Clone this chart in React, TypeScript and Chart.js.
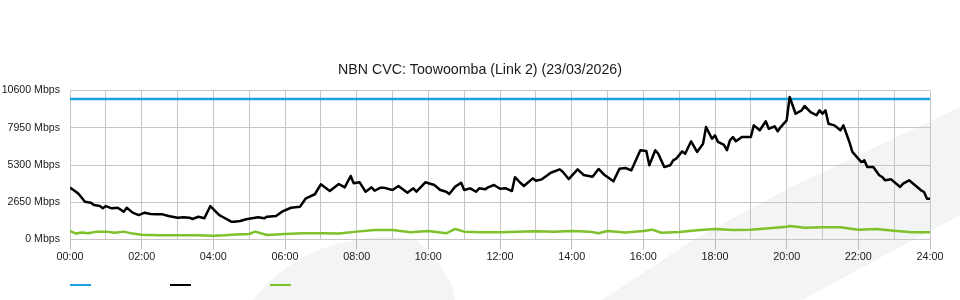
import React, { useEffect, useRef } from 'react';
import { Chart, registerables } from 'chart.js';

Chart.register(...registerables);

const chartTitle = 'NBN CVC: Toowoomba (Link 2) (23/03/2026)';
const hourLabels = ['00:00', '02:00', '04:00', '06:00', '08:00', '10:00', '12:00', '14:00', '16:00', '18:00', '20:00', '22:00', '24:00'];
const yMax = 10600;
const yStep = 2650;

// Capacity line (Mbps)
const capacityTimes = [0, 1440];
const capacityValues = [10000, 10000];

// Traffic (black), minutes since midnight
const trafficTimes = [
  0, 10, 15, 25, 35, 40, 50, 55, 60, 70,
  80, 90, 95, 105, 115, 125, 135, 145, 155, 165,
  180, 190, 200, 205, 215, 225, 235, 250, 255, 270,
  275, 285, 295, 305, 315, 325, 330, 345, 355, 370,
  385, 395, 410, 420, 435, 450, 460, 470, 475, 485,
  495, 505, 510, 520, 525, 540, 550, 565, 575, 580,
  595, 610, 620, 630, 635, 645, 655, 660, 670, 680,
  685, 695, 700, 710, 720, 730, 740, 745, 755, 760,
  775, 780, 790, 800, 805, 820, 825, 835, 850, 860,
  875, 885, 895, 910, 920, 930, 940, 955, 965, 970,
  980, 985, 995, 1005, 1010, 1015, 1025, 1030, 1040, 1050,
  1060, 1065, 1075, 1080, 1085, 1095, 1100, 1105, 1110, 1115,
  1125, 1140, 1145, 1155, 1165, 1170, 1180, 1185, 1190, 1200,
  1205, 1215, 1225, 1230, 1240, 1250, 1255, 1260, 1265, 1270,
  1280, 1290, 1295, 1305, 1310, 1325, 1330, 1335, 1345, 1355,
  1360, 1365, 1375, 1390, 1395, 1405, 1415, 1425, 1430, 1435,
  1440,
];
const trafficValues = [
  3690, 3400, 3220, 2690, 2620, 2450, 2380, 2220, 2380, 2220,
  2260, 1980, 2260, 1910, 1740, 1910, 1810, 1790, 1790, 1670,
  1550, 1580, 1550, 1460, 1620, 1510, 2380, 1740, 1620, 1270,
  1270, 1320, 1440, 1510, 1580, 1510, 1620, 1670, 1980, 2260,
  2330, 2930, 3220, 3930, 3450, 3950, 3710, 4520, 4000, 4070,
  3400, 3710, 3470, 3690, 3690, 3520, 3810, 3330, 3640, 3400,
  4070, 3880, 3520, 3400, 3240, 3760, 4040, 3520, 3640, 3400,
  3640, 3570, 3710, 3880, 3610, 3640, 3450, 4430, 4000, 3810,
  4350, 4180, 4280, 4590, 4750, 4990, 4820, 4300, 4990, 4590,
  4470, 5020, 4590, 4140, 5040, 5090, 4920, 6350, 6300, 5280,
  6350, 6100, 5160, 5280, 5630, 5750, 6270, 6100, 6990, 6230,
  6820, 8000, 7170, 7410, 6940, 6740, 6350, 7060, 7290, 6990,
  7290, 7290, 8120, 7770, 8410, 7880, 8050, 7700, 8000, 8480,
  10140, 8950, 9190, 9500, 9070, 8840, 9190, 8950, 9190, 8240,
  8120, 7770, 8120, 6940, 6230, 5510, 5630, 5160, 5160, 4570,
  4450, 4210, 4280, 3740, 3970, 4210, 3860, 3500, 3380, 2900,
  2900,
];

// Upload (green), minutes since midnight
const uploadTimes = [
  0, 10, 20, 30, 45, 60, 75, 90, 105, 120,
  150, 180, 210, 240, 260, 270, 300, 310, 330, 360,
  390, 420, 450, 480, 510, 540, 570, 600, 630, 645,
  660, 690, 720, 750, 780, 810, 840, 870, 885, 900,
  930, 960, 975, 990, 1020, 1050, 1080, 1110, 1140, 1170,
  1200, 1206, 1230, 1260, 1290, 1320, 1350, 1380, 1410, 1440,
];
const uploadValues = [
  610, 420, 500, 450, 560, 560, 480, 560, 420, 330,
  300, 300, 300, 270, 300, 330, 390, 560, 320, 390,
  440, 440, 420, 560, 680, 680, 510, 600, 440, 750,
  560, 510, 510, 560, 580, 560, 600, 560, 440, 600,
  500, 600, 700, 480, 530, 650, 740, 680, 700, 800,
  910, 960, 840, 870, 870, 700, 750, 630, 510, 510,
];

const FONT = "'Liberation Sans', Arial, Helvetica, sans-serif";
const GRID = '#c6c6c6';
const BLUE = '#1ba1e2';
const GREEN = '#7dc12b';

const toPoints = (xs: number[], ys: number[]) => xs.map((x, i) => ({ x, y: ys[i] }));

const watermark = {
  id: 'watermark',
  beforeDraw(chart: any) {
    const ctx = chart.ctx;
    ctx.save();
    ctx.fillStyle = '#f3f4f6';
    ctx.beginPath();
    ctx.moveTo(602, 300);
    ctx.lineTo(693, 240);
    ctx.lineTo(785, 190);
    ctx.lineTo(935, 119);
    ctx.lineTo(960, 107);
    ctx.lineTo(960, 215);
    ctx.lineTo(913, 240);
    ctx.lineTo(802, 300);
    ctx.closePath();
    ctx.fill();
    ctx.beginPath();
    ctx.moveTo(253, 300);
    ctx.quadraticCurveTo(290, 252, 350, 241);
    ctx.quadraticCurveTo(385, 233, 417, 240);
    ctx.quadraticCurveTo(440, 262, 452, 285);
    ctx.lineTo(455, 300);
    ctx.closePath();
    ctx.fill();
    ctx.restore();
  },
};

const lineLegend = {
  id: 'lineLegend',
  afterDraw(chart: any) {
    const ctx = chart.ctx;
    const left = chart.chartArea.left;
    const colors = [BLUE, '#000000', GREEN];
    ctx.save();
    ctx.lineWidth = 2;
    colors.forEach((c, i) => {
      ctx.strokeStyle = c;
      ctx.beginPath();
      ctx.moveTo(left + i * 100, 285);
      ctx.lineTo(left + i * 100 + 21, 285);
      ctx.stroke();
    });
    ctx.restore();
  },
};

export default function App() {
  const ref = useRef<HTMLCanvasElement | null>(null);
  useEffect(() => {
    if (!ref.current) return;
    const chart = new Chart(ref.current, {
      type: 'line',
      data: {
        datasets: [
          {
            label: 'Capacity',
            data: toPoints(capacityTimes, capacityValues),
            borderColor: BLUE,
            borderWidth: 2.5,
            pointRadius: 0,
            tension: 0,
            order: 1,
          },
          {
            label: 'Traffic',
            data: toPoints(trafficTimes, trafficValues),
            borderColor: '#000000',
            borderWidth: 2.5,
            pointRadius: 0,
            tension: 0,
            borderJoinStyle: 'round',
            order: 0,
          },
          {
            label: 'Upload',
            data: toPoints(uploadTimes, uploadValues),
            borderColor: GREEN,
            borderWidth: 2.5,
            pointRadius: 0,
            tension: 0,
            borderJoinStyle: 'round',
            order: 2,
          },
        ],
      },
      options: {
        responsive: false,
        animation: false,
        devicePixelRatio: 1,
        layout: { padding: 0 },
        plugins: {
          legend: { display: false },
          tooltip: { enabled: false },
          title: {
            display: true,
            text: chartTitle,
            color: '#1a1a1a',
            font: { family: FONT, size: 14.2, weight: 'normal' },
            padding: { top: 62, bottom: 11.5 },
          },
        },
        scales: {
          x: {
            type: 'linear',
            min: 0,
            max: 1440,
            afterFit: (s: any) => {
              s.height = 60.5;
            },
            ticks: {
              stepSize: 60,
              autoSkip: false,
              maxRotation: 0,
              padding: 1,
              color: '#1a1a1a',
              font: { family: FONT, size: 10.8 },
              callback: (v: any) => (Number(v) % 120 === 0 ? hourLabels[Number(v) / 120] : ''),
            },
            grid: {
              color: GRID,
              lineWidth: 1,
              tickLength: 10,
              tickColor: (c: any) => (c.tick && c.tick.value % 120 === 0 ? '#bdbdbd' : 'rgba(0,0,0,0)'),
            },
            border: { color: GRID },
          },
          y: {
            min: 0,
            max: yMax,
            afterFit: (s: any) => {
              s.width = 70;
            },
            ticks: {
              stepSize: yStep,
              padding: 10,
              color: '#1a1a1a',
              font: { family: FONT, size: 10.6 },
              callback: (v: any) => `${v} Mbps`,
            },
            grid: { color: GRID, lineWidth: 1, drawTicks: false },
            border: { display: false },
          },
          yRight: {
            position: 'right',
            min: 0,
            max: yMax,
            afterFit: (s: any) => {
              s.width = 30;
            },
            ticks: { display: false },
            grid: { display: false, drawTicks: false },
            border: { display: false },
          },
        },
      },
      plugins: [watermark, lineLegend],
    } as any);
    return () => chart.destroy();
  }, []);
  return (
    <canvas
      ref={ref}
      width={960}
      height={300}
      style={{ position: 'absolute', left: 0, top: 0, width: 960, height: 300 }}
    />
  );
}
